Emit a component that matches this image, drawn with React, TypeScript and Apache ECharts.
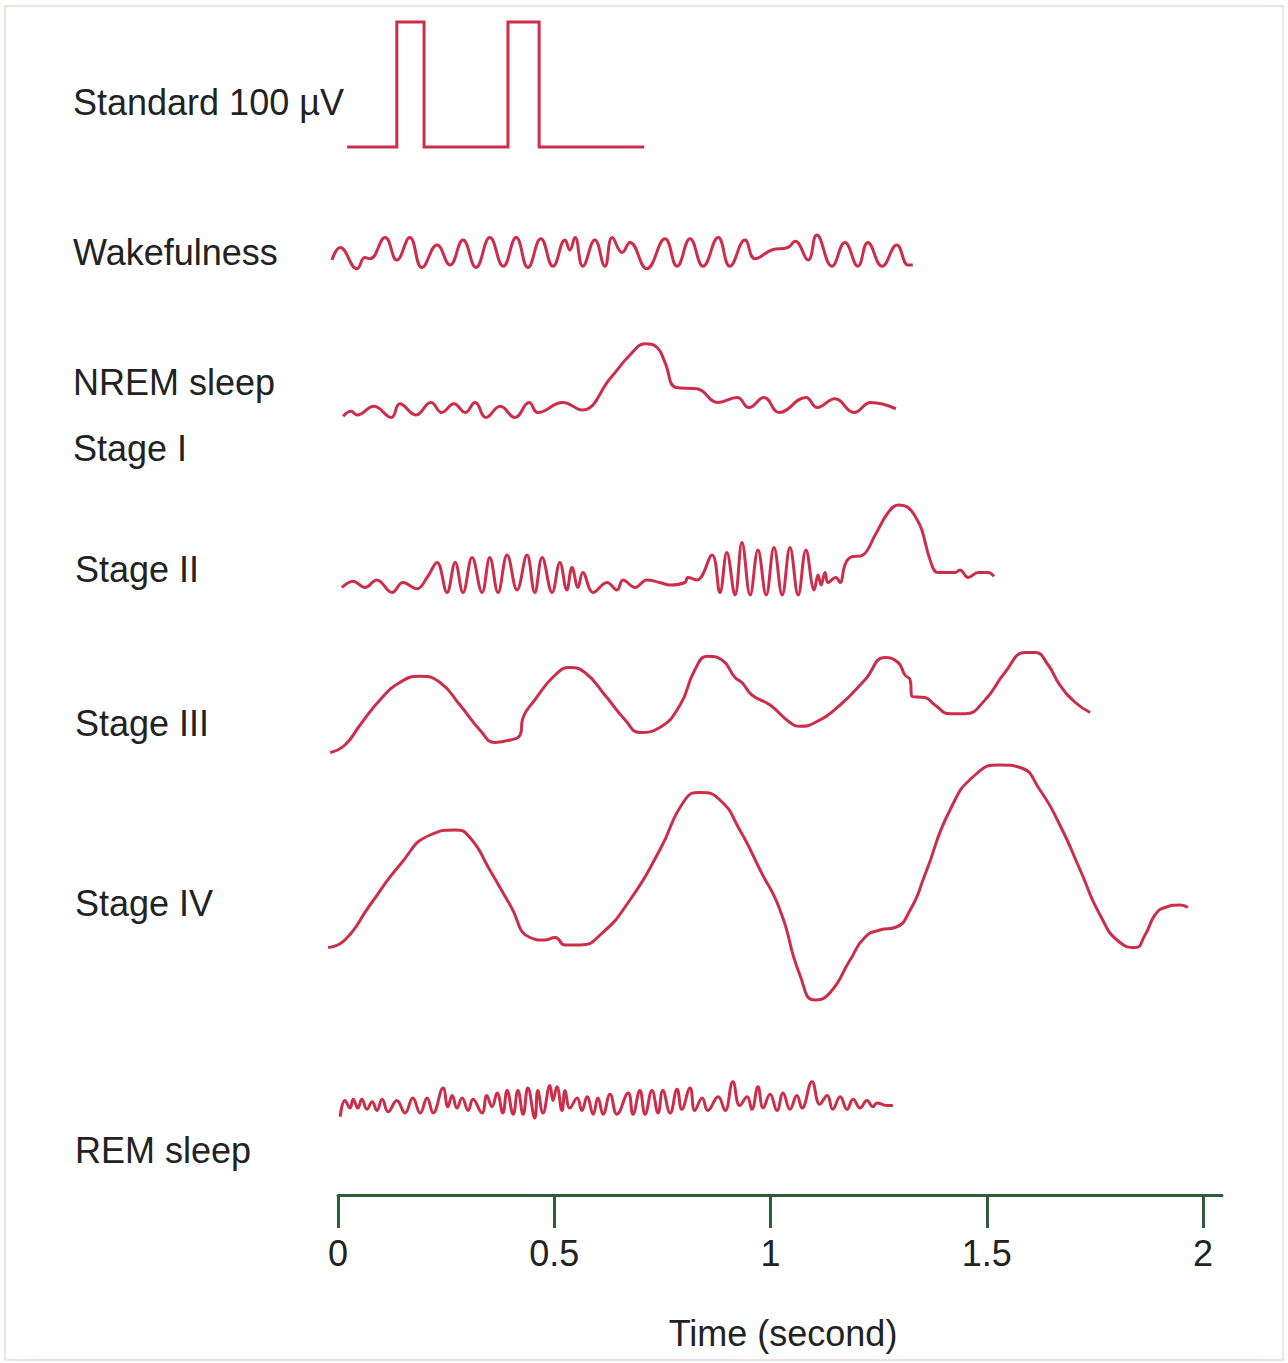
import React, { useEffect, useRef } from "react";
import * as echarts from "echarts";

// ---------- data (time in seconds, amplitude in µV) ----------
const TICK_VALUES = [0, 0.5, 1, 1.5, 2];
const TICK_LABELS = ["0", "0.5", "1", "1.5", "2"];
const AXIS_NAME = "Time (second)";

const LABELS = [
  "Standard 100 µV",
  "Wakefulness",
  "NREM sleep",
  "Stage I",
  "Stage II",
  "Stage III",
  "Stage IV",
  "REM sleep",
];

const STANDARD: [number, number][] = [
  [0.021, 0], [0.136, 0], [0.136, 100], [0.199, 100], [0.199, 0],
  [0.393, 0], [0.393, 100], [0.465, 100], [0.465, 0], [0.708, 0],
];

const WAKE: [number, number][] = [
  [-0.014, -4], [0.005, 6], [0.044, -11], [0.062, -2], [0.074, -3], [0.109, 14],
  [0.136, -4], [0.166, 14], [0.194, -10], [0.229, 8], [0.259, -8], [0.289, 12],
  [0.319, -10], [0.351, 14], [0.382, -9], [0.412, 14], [0.439, -10], [0.469, 13],
  [0.497, -9], [0.525, 12], [0.536, 4], [0.548, 14], [0.566, -9], [0.594, 12],
  [0.617, -9], [0.634, 14], [0.657, 2], [0.675, 10], [0.714, -11], [0.756, 13],
  [0.784, -9], [0.814, 13], [0.844, -9], [0.879, 14], [0.906, -9], [0.941, 12],
  [0.964, -3], [1.003, 4], [1.04, 6], [1.057, 11], [1.087, -4], [1.107, 16],
  [1.142, -9], [1.172, 10], [1.202, -9], [1.225, 10], [1.258, -9], [1.292, 8],
  [1.318, -8], [1.329, -8],
];

const NREM1: [number, number][] = [
  [0.012, -5], [0.03, -1], [0.044, -4], [0.083, 3], [0.123, -6], [0.143, 5],
  [0.18, -4], [0.215, 6], [0.24, -2], [0.268, 5], [0.294, -2], [0.317, 6],
  [0.342, -6], [0.375, 3], [0.409, -6], [0.442, 6], [0.462, -2], [0.52, 6],
  [0.564, 0], [0.631, 26], [0.675, 44], [0.71, 53], [0.738, 50], [0.756, 38],
  [0.782, 18], [0.83, 17], [0.879, 6], [0.923, 10], [0.95, 2], [0.985, 10],
  [1.02, -2], [1.082, 10], [1.108, 2], [1.149, 9], [1.193, -2], [1.232, 6],
  [1.29, 1],
];

const NREM2: [number, number][] = [
  [0.009, -2], [0.035, 3], [0.062, -2], [0.09, 4], [0.125, -6], [0.15, 2],
  [0.183, -3], [0.206, 6],
  [0.229, 18], [0.252, -6], [0.271, 18], [0.289, -6], [0.31, 22], [0.333, -6],
  [0.351, 22], [0.37, -6], [0.391, 24], [0.414, -4], [0.437, 24], [0.455, -6],
  [0.472, 22], [0.495, -6], [0.513, 18], [0.529, -4], [0.541, 14], [0.555, -2],
  [0.566, 10], [0.59, -6],
  [0.622, 2], [0.645, -4], [0.659, 4], [0.687, -2], [0.714, 4], [0.744, 2],
  [0.768, 0], [0.802, 2], [0.809, 6], [0.83, 4],
  [0.865, 24], [0.883, -6], [0.899, 26], [0.918, -8], [0.934, 34], [0.953, -8],
  [0.971, 28], [0.99, -8], [1.008, 30], [1.027, -8], [1.045, 30], [1.064, -8],
  [1.082, 28], [1.101, -4],
  [1.11, 8], [1.117, 0], [1.126, 10], [1.133, 2], [1.151, 6], [1.161, 2],
  [1.172, 16], [1.184, 22], [1.214, 24], [1.242, 40], [1.272, 58], [1.295, 64],
  [1.318, 62], [1.336, 54], [1.35, 44], [1.369, 20], [1.387, 10], [1.427, 10],
  [1.438, 12], [1.457, 6], [1.48, 10], [1.503, 10], [1.517, 7],
];

const NREM3: [number, number][] = [
  [-0.018, -38], [0.016, -32], [0.051, -16], [0.097, 4], [0.143, 18], [0.19, 23],
  [0.236, 18], [0.282, 0], [0.328, -20], [0.363, -30], [0.398, -28], [0.421, -24],
  [0.428, -10], [0.455, 4], [0.502, 24], [0.536, 30], [0.571, 26], [0.617, 8],
  [0.664, -12], [0.698, -22], [0.744, -18], [0.791, 0], [0.825, 28], [0.855, 39],
  [0.888, 36], [0.918, 22], [0.934, 18], [0.957, 8], [0.999, 0], [1.045, -14],
  [1.068, -17], [1.103, -14], [1.161, 0], [1.218, 20], [1.265, 38], [1.295, 34],
  [1.311, 24], [1.323, 20], [1.327, 7], [1.357, 6], [1.38, 0], [1.415, -7],
  [1.45, -7], [1.496, 4], [1.542, 26], [1.589, 42], [1.612, 42], [1.642, 32],
  [1.669, 16], [1.705, 2], [1.739, -6],
];

const NREM4: [number, number][] = [
  [-0.023, -50], [0.016, -44], [0.074, -16], [0.143, 16], [0.213, 40], [0.271, 44],
  [0.305, 38], [0.351, 12], [0.398, -16], [0.444, -42], [0.479, -44], [0.502, -42],
  [0.525, -48], [0.56, -48], [0.606, -40], [0.675, -12], [0.744, 28], [0.802, 68],
  [0.837, 74], [0.883, 68], [0.929, 44], [0.976, 12], [1.022, -20], [1.068, -72],
  [1.103, -92], [1.138, -86], [1.184, -60], [1.218, -42], [1.253, -36], [1.288, -34],
  [1.323, -20], [1.357, 8], [1.415, 60], [1.473, 88], [1.531, 96], [1.577, 94],
  [1.623, 76], [1.669, 48], [1.716, 12], [1.762, -24], [1.808, -46], [1.843, -50],
  [1.866, -40], [1.889, -24], [1.912, -18], [1.947, -16], [1.965, -18],
];

const REM: [number, number][] = [
  [0.005, -11], [0.016, 2], [0.028, -4], [0.035, 3], [0.046, -4], [0.055, 3],
  [0.067, -5], [0.079, 1], [0.09, -6], [0.102, 3], [0.116, -7], [0.136, 2],
  [0.155, -8], [0.173, 4], [0.19, -8], [0.206, 4], [0.22, -8], [0.243, 12],
  [0.254, -3], [0.264, 6], [0.275, -4], [0.287, 4], [0.301, -6], [0.312, 3],
  [0.333, -8], [0.344, 6], [0.356, -3], [0.368, 8], [0.381, -8], [0.391, 10],
  [0.405, -9], [0.416, 10], [0.428, -9], [0.439, 12], [0.455, -12], [0.462, 10],
  [0.474, -8], [0.49, 14], [0.497, 2], [0.506, 13], [0.518, -6], [0.525, 10],
  [0.536, -4], [0.553, 4], [0.564, -6], [0.576, 5], [0.59, -9], [0.601, 4],
  [0.613, -9], [0.629, 7], [0.645, -9], [0.671, 8], [0.682, -9], [0.698, 10],
  [0.71, -9], [0.726, 10], [0.74, -8], [0.751, 10], [0.768, -8], [0.784, 11],
  [0.795, -5], [0.814, 12], [0.825, -6], [0.842, 4], [0.855, -6], [0.879, 5],
  [0.895, -6], [0.913, 17], [0.929, -2], [0.946, 5], [0.957, -5], [0.971, 13],
  [0.983, -4], [0.999, 7], [1.015, -6], [1.029, 8], [1.045, -5], [1.061, 6],
  [1.073, -4], [1.096, 17], [1.114, -1], [1.131, 6], [1.144, -5], [1.161, 5],
  [1.177, -5], [1.191, 3], [1.207, -4], [1.223, 2], [1.237, -3], [1.246, 0],
  [1.269, -2], [1.283, -2],
];

// ---------- layout & style ----------
const W = 1288;
const H = 1363;
const PX_PER_S = 432.5;
const PX_PER_UV = 1.25;
const X0 = 338; // pixel of t = 0
const T_MIN = -0.03;
const T_MAX = 2.044;
const RED = "#cc2e4a";
const GREEN = "#2f5d3a";
const TEXT = "#222222";
const FONT = "'Liberation Sans', Arial, sans-serif";
const FS = 36;

const TRACES = [
  { data: STANDARD, base: 147, vmin: -10, vmax: 110, smooth: false },
  { data: WAKE, base: 255, vmin: -30, vmax: 30, smooth: 0.45 },
  { data: NREM1, base: 410, vmin: -20, vmax: 70, smooth: 0.45 },
  { data: NREM2, base: 585, vmin: -20, vmax: 80, smooth: 0.4 },
  { data: NREM3, base: 705, vmin: -50, vmax: 50, smooth: 0.5 },
  { data: NREM4, base: 885, vmin: -110, vmax: 110, smooth: 0.55 },
  { data: REM, base: 1103, vmin: -20, vmax: 25, smooth: 0.45 },
];

const LABEL_POS: [number, number][] = [
  [73, 102], [73, 252], [73, 382], [73, 448], [75, 569], [75, 723], [75, 903], [75, 1150],
];

function buildOption() {
  const grid: any[] = [];
  const xAxis: any[] = [];
  const yAxis: any[] = [];
  const series: any[] = [];

  TRACES.forEach((tr, i) => {
    grid.push({
      left: X0 + T_MIN * PX_PER_S,
      width: (T_MAX - T_MIN) * PX_PER_S,
      top: tr.base - tr.vmax * PX_PER_UV,
      height: (tr.vmax - tr.vmin) * PX_PER_UV,
      containLabel: false,
    });
    xAxis.push({ type: "value", gridIndex: i, min: T_MIN, max: T_MAX, show: false });
    yAxis.push({ type: "value", gridIndex: i, min: tr.vmin, max: tr.vmax, show: false });
    series.push({
      type: "line",
      xAxisIndex: i,
      yAxisIndex: i,
      data: tr.data,
      smooth: tr.smooth,
      showSymbol: false,
      symbol: "none",
      clip: false,
      lineStyle: { color: RED, width: 3, join: tr.smooth ? "round" : "miter", cap: "butt" },
    });
  });

  const ai = TRACES.length;
  const axisY = 1195;
  grid.push({ left: X0, width: T_MAX * PX_PER_S, top: axisY - 60, height: 60 });
  xAxis.push({
    type: "value",
    gridIndex: ai,
    min: 0,
    max: T_MAX,
    axisLine: { show: true, lineStyle: { color: GREEN, width: 3 } },
    axisTick: {
      show: true,
      customValues: TICK_VALUES,
      length: 33,
      inside: false,
      lineStyle: { color: GREEN, width: 3 },
    },
    axisLabel: {
      show: true,
      customValues: TICK_VALUES,
      margin: 40,
      fontSize: FS,
      fontFamily: FONT,
      color: TEXT,
      formatter: (v: number) => {
        const k = TICK_VALUES.findIndex((t) => Math.abs(t - v) < 1e-9);
        return k >= 0 ? TICK_LABELS[k] : "";
      },
    },
    splitLine: { show: false },
  });
  yAxis.push({ type: "value", gridIndex: ai, min: 0, max: 1, show: false });

  const graphic: any[] = [
    {
      type: "rect",
      shape: { x: 5, y: 6, width: 1278, height: 1354 },
      style: { fill: "none", stroke: "#f1d6d6", lineWidth: 1.5 },
      silent: true,
    },
  ];
  LABELS.forEach((t, i) => {
    graphic.push({
      type: "text",
      x: LABEL_POS[i][0],
      y: LABEL_POS[i][1],
      style: {
        text: t,
        fontSize: FS,
        fontFamily: FONT,
        fill: TEXT,
        textAlign: "left",
        textVerticalAlign: "middle",
      },
    });
  });
  graphic.push({
    type: "text",
    x: 783,
    y: 1333,
    style: {
      text: AXIS_NAME,
      fontSize: FS,
      fontFamily: FONT,
      fill: TEXT,
      textAlign: "center",
      textVerticalAlign: "middle",
    },
  });

  return {
    animation: false,
    backgroundColor: "#ffffff",
    grid,
    xAxis,
    yAxis,
    series,
    graphic,
  };
}

export default function App() {
  const ref = useRef<HTMLDivElement>(null);
  useEffect(() => {
    document.body.style.margin = "0";
    if (!ref.current) return;
    const chart = echarts.init(ref.current, undefined, { renderer: "svg", width: W, height: H });
    chart.setOption(buildOption());
    return () => chart.dispose();
  }, []);
  return <div ref={ref} style={{ width: W, height: H }} />;
}
